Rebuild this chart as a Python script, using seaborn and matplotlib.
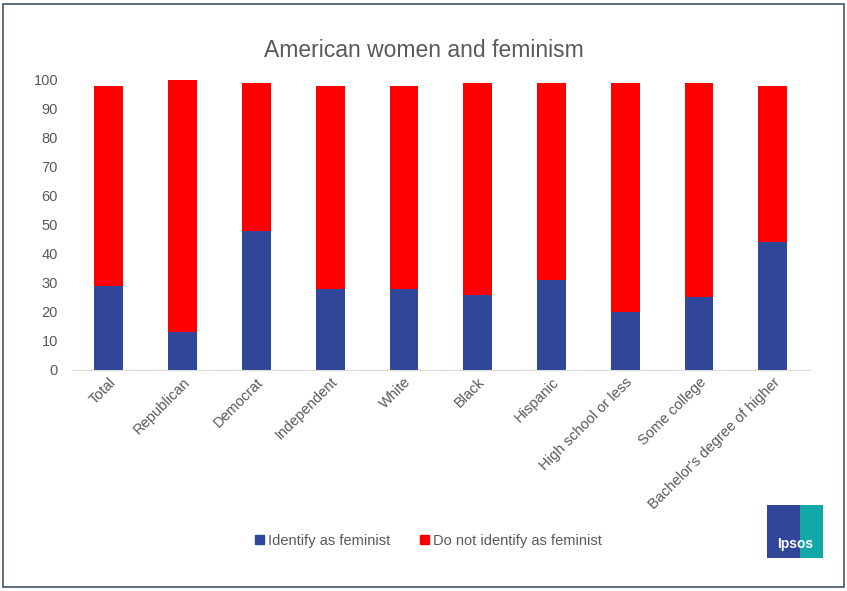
import pandas as pd
import matplotlib.pyplot as plt
import seaborn as sns
from matplotlib.patches import Rectangle, Patch

categories = ["Total", "Republican", "Democrat", "Independent", "White", "Black",
              "Hispanic", "High school or less", "Some college", "Bachelor's degree of higher"]
identify = [29, 13, 48, 28, 28, 26, 31, 20, 25, 44]
not_identify = [69, 87, 51, 70, 70, 73, 68, 79, 74, 54]

blue = "#2F4699"
red = "#FF0000"
grey = "#595959"

df = pd.DataFrame({"group": categories, "identify": identify, "not_identify": not_identify})
df["total"] = df["identify"] + df["not_identify"]

sns.set_style("white")
plt.rcParams["font.family"] = ["Liberation Sans", "DejaVu Sans"]

fig = plt.figure(figsize=(8.47, 5.91), dpi=100)
ax = fig.add_axes([0.085, 0.374, 0.871, 0.491])

sns.barplot(data=df, x="group", y="total", color=red, width=0.39, saturation=1,
            linewidth=0, ax=ax)
sns.barplot(data=df, x="group", y="identify", color=blue, width=0.39, saturation=1,
            linewidth=0, ax=ax)

ax.set_ylim(0, 100)
ax.set_yticks(range(0, 101, 10))
ax.set_xlabel("")
ax.set_ylabel("")
ax.tick_params(axis="both", length=0, labelsize=10.5, colors=grey)
ax.tick_params(axis="y", pad=10)
plt.setp(ax.get_xticklabels(), rotation=45, ha="right", rotation_mode="anchor")
for side in ["top", "right", "left"]:
    ax.spines[side].set_visible(False)
ax.spines["bottom"].set_color("#D9D9D9")

fig.text(0.501, 0.914, "American women and feminism", ha="center", va="center",
         fontsize=16.5, color=grey)

handles = [Patch(color=blue, label="Identify as feminist"),
           Patch(color=red, label="Do not identify as feminist")]
fig.legend(handles=handles, loc="center", bbox_to_anchor=(0.506, 0.085), ncol=2,
           frameon=False, fontsize=10.5, handlelength=0.6, handleheight=0.6,
           handletextpad=0.3, columnspacing=2.0, labelcolor=grey)

# Ipsos badge
fig.patches.append(Rectangle((0.906, 0.055), 0.066, 0.09, transform=fig.transFigure,
                             facecolor="#2F4699", edgecolor="none"))
fig.patches.append(Rectangle((0.945, 0.055), 0.027, 0.09, transform=fig.transFigure,
                             facecolor="#13A8A8", edgecolor="none"))
fig.text(0.939, 0.08, "Ipsos", ha="center", va="center", fontsize=10,
         color="white", fontweight="bold")

# outer border
fig.patches.append(Rectangle((0.004, 0.006), 0.992, 0.988, transform=fig.transFigure,
                             facecolor="none", edgecolor="#44546A", linewidth=1.2))

fig.savefig("out.png", dpi=100)
